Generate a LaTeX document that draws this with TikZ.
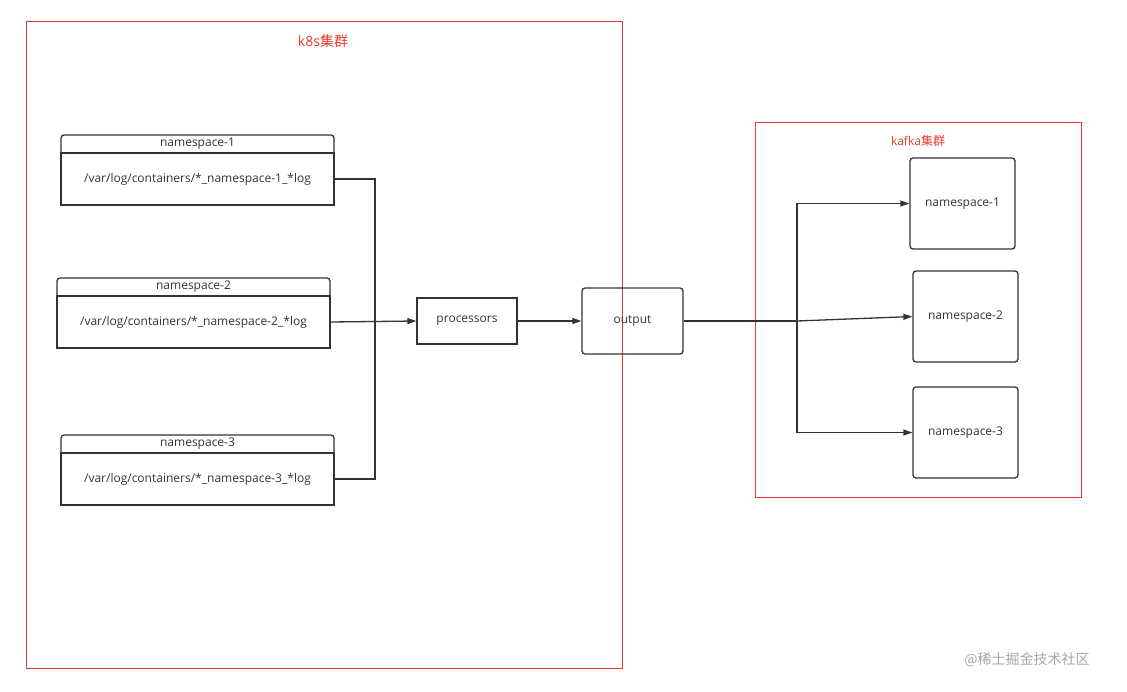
\documentclass[tikz,border=0pt]{standalone}
\usepackage{fontspec}
\setmainfont{Open Sans}
\newfontfamily\cjk{Noto Sans CJK SC}
\usetikzlibrary{arrows.meta}
\definecolor{fr}{HTML}{E53A2C}
\definecolor{ln}{HTML}{333333}
\begin{document}
\begin{tikzpicture}[x=1pt,y=-1pt,
  box/.style={draw=ln,line width=1.3pt},
  frame/.style={draw=fr,line width=0.8pt},
  t/.style={font=\fontsize{12}{14}\selectfont,text=ln},
  arr/.style={draw=ln,line width=1.3pt,-{Triangle[length=9pt,width=6pt]}},
  ln/.style={draw=ln,line width=1.3pt}]
\useasboundingbox (0,0) rectangle (1127,691);
\draw[frame] (26,21) rectangle (622,668);
\node[text=fr,font=\fontsize{14}{16}\selectfont] (k8s) at (323,41) {k8s\cjk 集群};
\draw[frame] (755,122) rectangle (1081,497);
\node[text=fr,font=\fontsize{12}{14}\selectfont] (kaf) at (918,141) {kafka\cjk 集群};
% namespace boxes
\foreach \n/\x/\y in {1/61/135,2/57/278,3/61/435}{
  \draw[box,rounded corners=3pt] (\x,\y+18) -- (\x,\y) -- (\x+273,\y) -- (\x+273,\y+18);
  \draw[box] (\x,\y+18) rectangle (\x+273,\y+70);
  \node[t] (h\n) at (\x+136.5,\y+9) {namespace-\n};
  \node[t,minimum width=273pt,minimum height=52pt,inner sep=0] (b\n) at (\x+136.5,\y+44) {/var/log/containers/*\_namespace-\n\_*log};
}
\node[box,t,minimum width=100pt,minimum height=46pt,inner sep=0] (p) at (467,321) {processors};
\node[box,t,rounded corners=3pt,minimum width=101pt,minimum height=66pt,inner sep=0] (o) at (632.5,321) {output};
\node[box,t,rounded corners=3pt,minimum width=105pt,minimum height=91pt,inner sep=0] (k1) at (962.5,203.5) {namespace-1};
\node[box,t,rounded corners=3pt,minimum width=105pt,minimum height=91pt,inner sep=0] (k2) at (965.5,316.5) {namespace-2};
\node[box,t,rounded corners=3pt,minimum width=105pt,minimum height=91pt,inner sep=0] (k3) at (965.5,432.5) {namespace-3};
\coordinate (j) at (375,321);
\coordinate (m) at (797,321);
\draw[ln] (b1.east) -| (j);
\draw[ln] (b3.east) -| (j);
\draw[arr] (b2.east) -- (p.west);
\draw[arr] (p) -- (o);
\draw[ln] (o.east) -- (m);
\draw[arr] (m) |- (k1.west);
\draw[arr] (m) -- (k2.west);
\draw[arr] (m) |- (k3.west);
\node[text=gray!70,font=\cjk\fontsize{14}{16}\selectfont] (wm) at (1027,660) {@稀土掘金技术社区};
\end{tikzpicture}
\end{document}
